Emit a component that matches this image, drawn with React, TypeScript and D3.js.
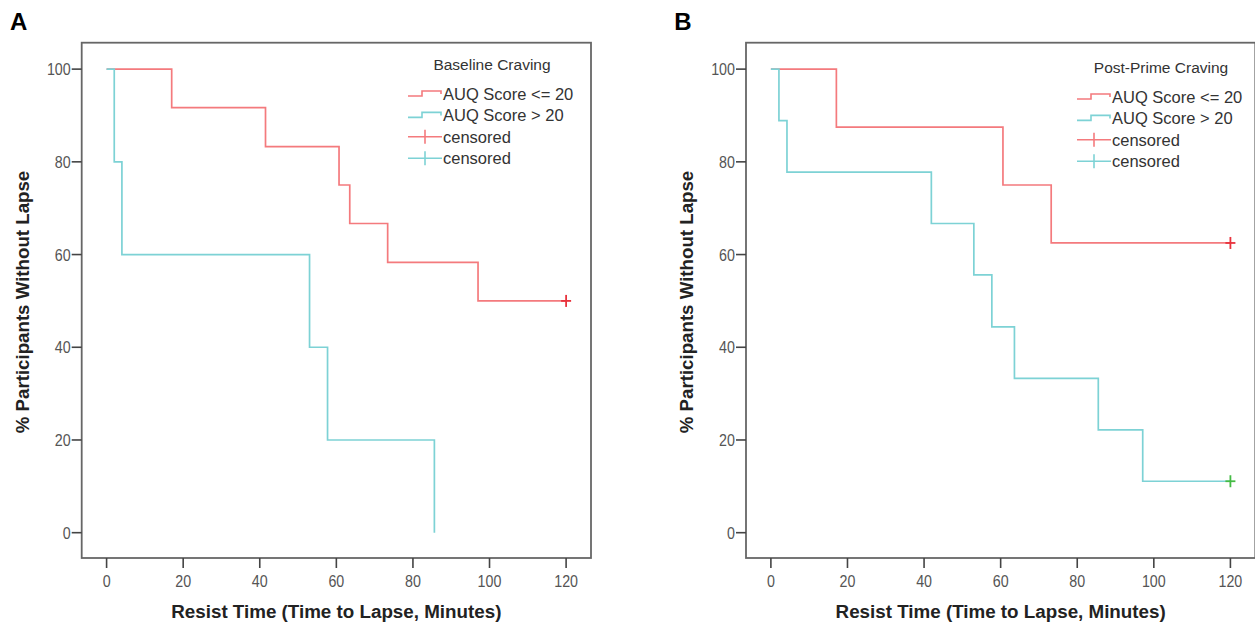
import React from 'react';
import * as d3 from 'd3';

// Kaplan-Meier steps (time in minutes, % without lapse)
const lowLabel = 'AUQ Score <= 20';
const highLabel = 'AUQ Score > 20';
const censorLabel = 'censored';

const aTitle = 'Baseline Craving';
const aLowTimes = [17, 41.5, 60.7, 63.5, 73.4, 97];
const aLowSurv = [91.7, 83.3, 75, 66.7, 58.3, 50];
const aLowCensor = [120];
const aHighTimes = [2, 4, 53, 57.7, 85.6];
const aHighSurv = [80, 60, 40, 20, 0];
const aHighCensor: number[] = [];

const bTitle = 'Post-Prime Craving';
const bLowTimes = [17.1, 60.6, 73.2];
const bLowSurv = [87.5, 75, 62.5];
const bLowCensor = [120];
const bHighTimes = [2.1, 4.2, 41.9, 53, 57.7, 63.6, 85.5, 97.1];
const bHighSurv = [88.9, 77.8, 66.7, 55.6, 44.4, 33.3, 22.2, 11.1];
const bHighCensor = [120];

const xTicks = [0, 20, 40, 60, 80, 100, 120];
const yTicks = [0, 20, 40, 60, 80, 100];

const RED = '#f47a7d';
const CYAN = '#7dd2d5';
const RED_CENSOR = '#e8323c';
const GREEN_CENSOR = '#44bb44';
const FONT = 'Liberation Sans, Arial, sans-serif';

function stepPoints(times: number[], surv: number[], censor: number[]) {
    const pts: [number, number][] = [[0, 100]];
    times.forEach((t, i) => pts.push([t, surv[i]]));
    const last = surv[surv.length - 1];
    censor.forEach(c => pts.push([c, last]));
    return pts;
}

function Panel(props: any) {
    const { ox, letter, title, low, high, lowCensor, highCensor, highCensorColor, legX, legY } = props;

    const x = d3.scaleLinear().domain([-6.5, 126.5]).range([81.7 + ox, 591 + ox]);
    const y = d3.scaleLinear().domain([-5.46, 105.7]).range([558, 42.7]);
    const line = d3.line<[number, number]>()
        .x(d => x(d[0]))
        .y(d => y(d[1]))
        .curve(d3.curveStepAfter);

    const lowPts = stepPoints(low[0], low[1], lowCensor);
    const highPts = stepPoints(high[0], high[1], highCensor);
    const lowLast = low[1][low[1].length - 1];
    const highLast = high[1][high[1].length - 1];

    const [x0, x1] = x.range();
    const [y0, y1] = y.range();

    const plus = (cx: number, cy: number, color: string, key: string) => (
        <g key={key} stroke={color} strokeWidth={1.8}>
            <line x1={cx - 5} x2={cx + 5} y1={cy} y2={cy} />
            <line x1={cx} x2={cx} y1={cy - 6} y2={cy + 6} />
        </g>
    );

    const rowGap = 21.4;
    const legendItems = [
        { label: lowLabel, color: RED, kind: 'step' },
        { label: highLabel, color: CYAN, kind: 'step' },
        { label: censorLabel, color: RED, kind: 'plus' },
        { label: censorLabel, color: CYAN, kind: 'plus' },
    ];

    return (
        <g>
            <text x={ox + 10} y={30} fontFamily={FONT} fontWeight="bold" fontSize={24}>{letter}</text>

            <rect x={x0} y={y1} width={x1 - x0} height={y0 - y1} fill="white" stroke="#666" strokeWidth={1.8} />

            {yTicks.map(t => (
                <g key={'y' + t}>
                    <line x1={x0 - 10} x2={x0} y1={y(t)} y2={y(t)} stroke="#444" strokeWidth={1.6} />
                    <text transform={`translate(${x0 - 11},${y(t) + 6}) scale(0.84,1)`} textAnchor="end" fontFamily={FONT} fontSize={17} fill="#555">{t}</text>
                </g>
            ))}
            {xTicks.map(t => (
                <g key={'x' + t}>
                    <line x1={x(t)} x2={x(t)} y1={y0} y2={y0 + 10} stroke="#444" strokeWidth={1.6} />
                    <text transform={`translate(${x(t)},${587}) scale(0.84,1)`} textAnchor="middle" fontFamily={FONT} fontSize={17} fill="#555">{t}</text>
                </g>
            ))}

            <text x={(x0 + x1) / 2} y={618} textAnchor="middle" fontFamily={FONT} fontWeight="bold" fontSize={18.8} fill="#222">
                Resist Time (Time to Lapse, Minutes)
            </text>
            <text transform={`translate(${ox + 29},${302}) rotate(-90)`} textAnchor="middle" fontFamily={FONT} fontWeight="bold" fontSize={18.7} fill="#222">
                % Participants Without Lapse
            </text>

            <path d={line(lowPts) || ''} fill="none" stroke={RED} strokeWidth={1.7} />
            <path d={line(highPts) || ''} fill="none" stroke={CYAN} strokeWidth={1.7} />
            {lowCensor.map((c: number, i: number) => plus(x(c), y(lowLast), RED_CENSOR, 'lc' + i))}
            {highCensor.map((c: number, i: number) => plus(x(c), y(highLast), highCensorColor, 'hc' + i))}

            <text x={legX + 84} y={legY - 24} textAnchor="middle" fontFamily={FONT} fontSize={15.5} fill="#333">{title}</text>
            {legendItems.map((it, i) => {
                const cy = legY + i * rowGap;
                return (
                    <g key={'l' + i}>
                        {it.kind === 'step'
                            ? <path d={`M${legX},${cy + 2}H${legX + 14}V${cy - 3}H${legX + 33}V${cy}`} fill="none" stroke={it.color} strokeWidth={1.6} />
                            : <g stroke={it.color} strokeWidth={1.6}>
                                <line x1={legX} x2={legX + 34} y1={cy} y2={cy} />
                                <line x1={legX + 17} x2={legX + 17} y1={cy - 7} y2={cy + 7} />
                            </g>}
                        <text x={legX + 35} y={cy + 6} fontFamily={FONT} fontSize={16.5} fill="#333">{it.label}</text>
                    </g>
                );
            })}
        </g>
    );
}

export default function App() {
    return (
        <svg width={1255} height={624} style={{ position: 'absolute', left: 0, top: 0, background: 'white' }}>
            <Panel ox={0} letter="A" title={aTitle}
                low={[aLowTimes, aLowSurv]} high={[aHighTimes, aHighSurv]}
                lowCensor={aLowCensor} highCensor={aHighCensor} highCensorColor={GREEN_CENSOR}
                legX={408} legY={94} />
            <Panel ox={664.3} letter="B" title={bTitle}
                low={[bLowTimes, bLowSurv]} high={[bHighTimes, bHighSurv]}
                lowCensor={bLowCensor} highCensor={bHighCensor} highCensorColor={GREEN_CENSOR}
                legX={1077} legY={97} />
        </svg>
    );
}
